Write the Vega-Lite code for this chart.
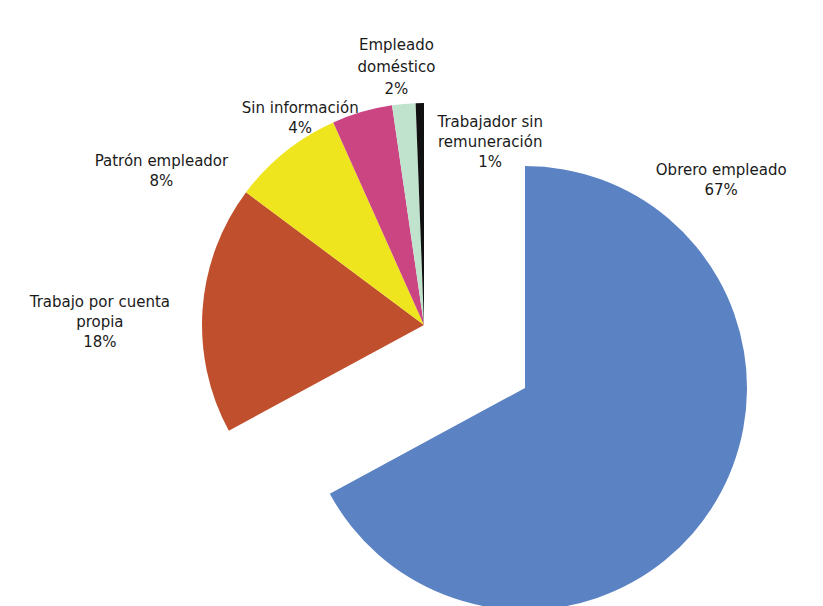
{
  "$schema": "https://vega.github.io/schema/vega-lite/v6.json",
  "width": 796,
  "height": 562,
  "autosize": {"type": "none"},
  "padding": {"left": 26, "top": 44, "right": 0, "bottom": 0},
  "background": "white",
  "config": {"view": {"stroke": null}},
  "data": {
    "values": [
      {"orden": 1, "cat": "Obrero empleado", "value": 67.1, "etiqueta": "Obrero empleado\n67%"},
      {"orden": 2, "cat": "Trabajo por cuenta propia", "value": 18.1, "etiqueta": "Trabajo por cuenta\npropia\n18%"},
      {"orden": 3, "cat": "Patrón empleador", "value": 8.1, "etiqueta": "Patrón empleador\n8%"},
      {"orden": 4, "cat": "Sin información", "value": 4.4, "etiqueta": "Sin información\n4%"},
      {"orden": 5, "cat": "Empleado doméstico", "value": 1.7, "etiqueta": "Empleado\ndoméstico\n2%"},
      {"orden": 6, "cat": "Trabajador sin remuneración", "value": 0.6, "etiqueta": "Trabajador sin\nremuneración\n1%"}
    ]
  },
  "encoding": {
    "theta": {"field": "value", "type": "quantitative", "stack": true},
    "order": {"field": "orden", "type": "quantitative"},
    "detail": {"field": "cat", "type": "nominal"}
  },
  "layer": [
    {
      "mark": {"type": "arc", "radius": 222},
      "encoding": {
        "color": {
          "field": "cat", "type": "nominal", "legend": null,
          "scale": {
            "domain": ["Obrero empleado", "Trabajo por cuenta propia", "Patrón empleador", "Sin información", "Empleado doméstico", "Trabajador sin remuneración"],
            "range": ["#5b83c3", "#c0502d", "#eee51e", "#cb4583", "#bfe3cd", "#111111"]
          }
        },
        "fillOpacity": {"condition": {"test": "datum.cat === 'Obrero empleado'", "value": 0}, "value": 1}
      }
    },
    {
      "mark": {"type": "arc", "radius": 222, "xOffset": 101, "yOffset": 63},
      "encoding": {
        "color": {"field": "cat", "type": "nominal", "legend": null},
        "fillOpacity": {"condition": {"test": "datum.cat === 'Obrero empleado'", "value": 1}, "value": 0}
      }
    },
    {
      "mark": {"type": "text", "radius": 176, "dx": 146, "dy": -245, "align": "center", "baseline": "middle", "lineBreak": "\n", "lineHeight": 20, "font": "DejaVu Sans", "fontSize": 15, "color": "#1a1a1a"},
      "encoding": {"text": {"condition": {"test": "datum.cat === 'Obrero empleado'", "field": "etiqueta"}, "value": ""}}
    },
    {
      "mark": {"type": "text", "radius": 325, "dx": 0, "dy": 0, "align": "center", "baseline": "middle", "lineBreak": "\n", "lineHeight": 20, "font": "DejaVu Sans", "fontSize": 15, "color": "#1a1a1a"},
      "encoding": {"text": {"condition": {"test": "datum.cat === 'Trabajo por cuenta propia'", "field": "etiqueta"}, "value": ""}}
    },
    {
      "mark": {"type": "text", "radius": 292, "dx": -80, "dy": 64, "align": "center", "baseline": "middle", "lineBreak": "\n", "lineHeight": 20, "font": "DejaVu Sans", "fontSize": 15, "color": "#1a1a1a"},
      "encoding": {"text": {"condition": {"test": "datum.cat === 'Patrón empleador'", "field": "etiqueta"}, "value": ""}}
    },
    {
      "mark": {"type": "text", "radius": 243, "dx": -56, "dy": 16, "align": "center", "baseline": "middle", "lineBreak": "\n", "lineHeight": 20, "font": "DejaVu Sans", "fontSize": 15, "color": "#1a1a1a"},
      "encoding": {"text": {"condition": {"test": "datum.cat === 'Sin información'", "field": "etiqueta"}, "value": ""}}
    },
    {
      "mark": {"type": "text", "radius": 281, "dx": -2, "dy": 0, "align": "center", "baseline": "middle", "lineBreak": "\n", "lineHeight": 22, "font": "DejaVu Sans", "fontSize": 15, "color": "#1a1a1a"},
      "encoding": {"text": {"condition": {"test": "datum.cat === 'Empleado doméstico'", "field": "etiqueta"}, "value": ""}}
    },
    {
      "mark": {"type": "text", "radius": 202, "dx": 70, "dy": -1, "align": "center", "baseline": "middle", "lineBreak": "\n", "lineHeight": 20, "font": "DejaVu Sans", "fontSize": 15, "color": "#1a1a1a"},
      "encoding": {"text": {"condition": {"test": "datum.cat === 'Trabajador sin remuneración'", "field": "etiqueta"}, "value": ""}}
    }
  ]
}
